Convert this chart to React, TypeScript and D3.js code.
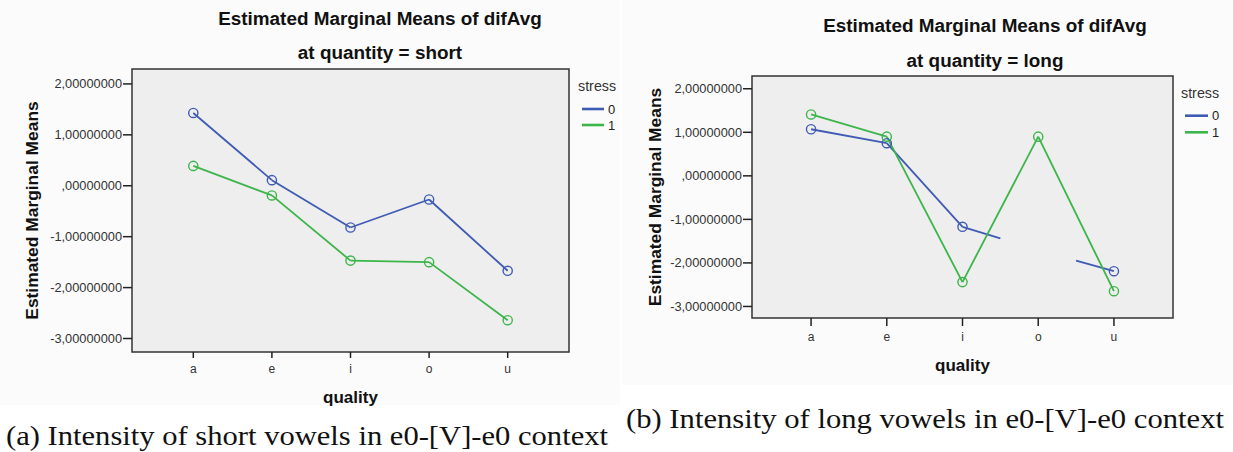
import React from "react";
import * as d3 from "d3";

const categories = ["a", "e", "i", "o", "u"];
const yTicks = [2, 1, 0, -1, -2, -3];
const yTickLabels = ["2,00000000", "1,00000000", ",00000000", "-1,00000000", "-2,00000000", "-3,00000000"];
const yDomain = [-3.265, 2.293];
const seriesNames = ["0", "1"];

const shortStress0 = [1.43, 0.11, -0.82, -0.27, -1.67];
const shortStress1 = [0.39, -0.19, -1.47, -1.5, -2.64];
const longStress0 = [1.07, 0.75, -1.17, -1.7, -2.19];
const longStress0Shown = [true, true, true, false, true];
const longStress1 = [1.41, 0.9, -2.44, 0.9, -2.65];

const titleLine1 = "Estimated Marginal Means of difAvg";
const titleShort = "at quantity = short";
const titleLong = "at quantity = long";
const yAxisTitle = "Estimated Marginal Means";
const xAxisTitle = "quality";
const legendTitle = "stress";
const captionA = "(a) Intensity of short vowels in e0-[V]-e0 context";
const captionB = "(b) Intensity of long vowels in e0-[V]-e0 context";

const COLORS = ["#3f5bb3", "#3cb54a"];
const SANS = "'Liberation Sans', Arial, Helvetica, sans-serif";
const SERIF = "'Liberation Serif', 'Times New Roman', serif";

type Series = { values: number[]; shown?: boolean[]; color: string };

type ChartProps = {
  x0: number; x1: number; y0: number; y1: number;
  titleX: number; titleY1: number; titleY2: number; subtitle: string;
  yLabelX: number; xLabelY: number; xTickLabelY: number; xTickLen: number;
  legendX: number; legendTitleY: number; legendY: number[]; legendLineW: number;
  series: Series[];
};

function Chart(p: ChartProps) {
  const x = d3.scalePoint<string>().domain(categories).range([p.x0, p.x1]).padding(0.78);
  const y = d3.scaleLinear().domain(yDomain).range([p.y1, p.y0]);

  const segs: JSX.Element[] = [];
  p.series.forEach((s, si) => {
    const shown = s.shown || s.values.map(() => true);
    for (let i = 0; i < s.values.length - 1; i++) {
      const xa = x(categories[i])!, xb = x(categories[i + 1])!;
      const ya = y(s.values[i]), yb = y(s.values[i + 1]);
      let sx = xa, sy = ya, ex = xb, ey = yb;
      if (!shown[i] && !shown[i + 1]) continue;
      if (!shown[i]) { sx = (xa + xb) / 2; sy = (ya + yb) / 2; }
      if (!shown[i + 1]) { ex = (xa + xb) / 2; ey = (ya + yb) / 2; }
      segs.push(<line key={`s${si}-${i}`} x1={sx} y1={sy} x2={ex} y2={ey} stroke={s.color} strokeWidth={1.8} />);
    }
  });

  return (
    <g fontFamily={SANS}>
      <text x={p.titleX} y={p.titleY1} textAnchor="middle" fontSize={18.9} fontWeight="bold" fill="#111">{titleLine1}</text>
      <text x={p.titleX} y={p.titleY2} textAnchor="middle" fontSize={18.9} fontWeight="bold" fill="#111">{p.subtitle}</text>
      <rect x={p.x0} y={p.y0} width={p.x1 - p.x0} height={p.y1 - p.y0} fill="#eeeeee" stroke="#333" strokeWidth={1.5} />
      {yTicks.map((t, i) => (
        <g key={`yt${i}`}>
          <line x1={p.x0 - 9} x2={p.x0} y1={y(t)} y2={y(t)} stroke="#222" strokeWidth={1.5} />
          <text x={p.x0 - 10} y={y(t)} dy="0.35em" textAnchor="end" fontSize={12.8} fill="#333">{yTickLabels[i]}</text>
        </g>
      ))}
      {categories.map((c) => (
        <g key={`xt${c}`}>
          <line x1={x(c)} x2={x(c)} y1={p.y1} y2={p.y1 + p.xTickLen} stroke="#222" strokeWidth={1.5} />
          <text x={x(c)} y={p.xTickLabelY} dy="0.35em" textAnchor="middle" fontSize={12} fill="#333">{c}</text>
        </g>
      ))}
      <text transform={`translate(${p.yLabelX},${(p.y0 + p.y1) / 2}) rotate(-90)`} textAnchor="middle" fontSize={17.4} fontWeight="bold" fill="#111">{yAxisTitle}</text>
      <text x={(p.x0 + p.x1) / 2} y={p.xLabelY} textAnchor="middle" fontSize={17} fontWeight="bold" fill="#111">{xAxisTitle}</text>
      {segs}
      {p.series.map((s, si) =>
        s.values.map((v, i) =>
          (s.shown ? s.shown[i] : true) ? (
            <circle key={`c${si}-${i}`} cx={x(categories[i])} cy={y(v)} r={4.6} fill="none" stroke={s.color} strokeWidth={1.4} />
          ) : null
        )
      )}
      <text x={p.legendX} y={p.legendTitleY} fontSize={14.3} fill="#333">{legendTitle}</text>
      {seriesNames.map((n, i) => (
        <g key={`lg${n}`}>
          <line x1={p.legendX + 4} x2={p.legendX + 4 + p.legendLineW} y1={p.legendY[i]} y2={p.legendY[i]} stroke={COLORS[i]} strokeWidth={2.6} />
          <text x={p.legendX + 8 + p.legendLineW} y={p.legendY[i]} dy="0.36em" fontSize={13} fill="#222">{n}</text>
        </g>
      ))}
    </g>
  );
}

export default function App() {
  return (
    <svg width={1233} height={452} style={{ position: "absolute", left: 0, top: 0, background: "#fff" }}>
      <rect x={0} y={0} width={620} height={405} fill="#fbfbfb" />
      <rect x={622} y={0} width={611} height={385} fill="#fbfbfb" />
      <Chart
        x0={132} x1={569} y0={69} y1={352}
        titleX={380} titleY1={25} titleY2={59} subtitle={titleShort}
        yLabelX={38} xLabelY={403} xTickLabelY={369} xTickLen={6}
        legendX={578} legendTitleY={91} legendY={[109, 125]} legendLineW={22}
        series={[
          { values: shortStress0, color: COLORS[0] },
          { values: shortStress1, color: COLORS[1] },
        ]}
      />
      <Chart
        x0={752} x1={1173} y0={76} y1={318}
        titleX={985} titleY1={32} titleY2={67} subtitle={titleLong}
        yLabelX={661} xLabelY={371} xTickLabelY={336.5} xTickLen={8}
        legendX={1181} legendTitleY={97.5} legendY={[115.7, 132.3]} legendLineW={23}
        series={[
          { values: longStress0, shown: longStress0Shown, color: COLORS[0] },
          { values: longStress1, color: COLORS[1] },
        ]}
      />
      <text x={6} y={445} fontFamily={SERIF} fontSize={28} fill="#111" textLength={602} lengthAdjust="spacingAndGlyphs">{captionA}</text>
      <text x={626} y={428} fontFamily={SERIF} fontSize={28} fill="#111" textLength={598} lengthAdjust="spacingAndGlyphs">{captionB}</text>
    </svg>
  );
}
